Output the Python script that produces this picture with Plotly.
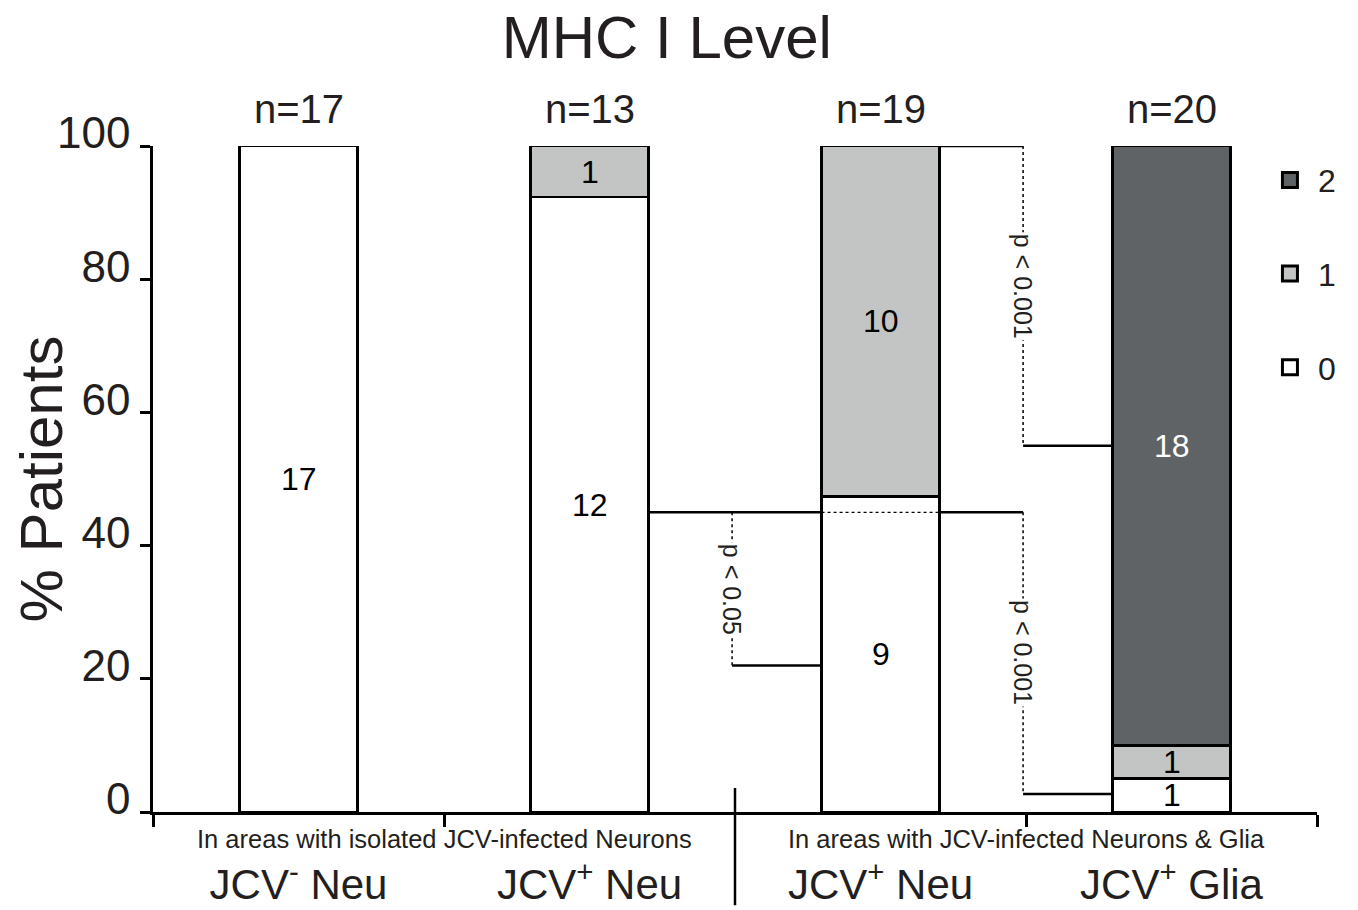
import plotly.graph_objects as go

# ---------------- data ----------------
categories = ["JCV<sup>-</sup> Neu", "JCV<sup>+</sup> Neu", "JCV<sup>+</sup> Neu", "JCV<sup>+</sup> Glia"]
group_labels = ["In areas with isolated JCV-infected Neurons", "In areas with JCV-infected Neurons & Glia"]
levels = ["0", "1", "2"]
count_level0 = [17, 12, 9, 1]
count_level1 = [0, 1, 10, 1]
count_level2 = [0, 0, 0, 18]
p_labels = ["p < 0.05", "p < 0.001", "p < 0.001"]
y_ticks = [0, 20, 40, 60, 80, 100]

counts = [count_level0, count_level1, count_level2]
totals = [sum(c[i] for c in counts) for i in range(len(categories))]
pct = [[100.0 * c[i] / totals[i] for i in range(len(categories))] for c in counts]

colors = ["#ffffff", "#c3c5c4", "#606366"]
txt = "#231f20"
FONT = "Liberation Sans, Arial, sans-serif"
BW = 0.405
xs = list(range(len(categories)))
W, H = 1350, 902  # page body adds an 8px offset

fig = go.Figure()
for k, lev in enumerate(levels):
    fig.add_trace(go.Bar(
        x=xs, y=pct[k], name=lev, width=BW,
        marker=dict(color=colors[k], line=dict(color="black", width=2.5)),
        showlegend=False, hoverinfo="skip",
    ))
# legend entries (square swatches)
for k, lev in enumerate(levels):
    fig.add_trace(go.Scatter(
        x=[None], y=[None], mode="markers", name=lev,
        marker=dict(symbol="square", size=15, color=colors[k], line=dict(color="black", width=3)),
        legendgroup=lev, legendrank=100 - k, showlegend=True,
    ))

# in-bar count labels
ann = []
for i in xs:
    base = 0.0
    for k in range(len(levels)):
        v = pct[k][i]
        if counts[k][i] > 0:
            ann.append(dict(x=i, y=base + v / 2, xref="x", yref="y", text=str(counts[k][i]),
                            showarrow=False, font=dict(size=32, color="white" if k == 2 else "black", family=FONT)))
        base += v
    # n= labels
    ann.append(dict(x=i, y=100, xref="x", yref="y", text=f"n={totals[i]}", showarrow=False,
                    yanchor="bottom", yshift=13, font=dict(size=40, color=txt, family=FONT)))

# group labels
for g, lab in enumerate(group_labels):
    ann.append(dict(x=2 * g + 0.5, y=0, xref="x", yref="paper", text=lab, showarrow=False,
                    yanchor="middle", yshift=-27, font=dict(size=25.5, color=txt, family=FONT)))

shapes = []
def hline(x0, x1, y, dash="solid", w=2.5):
    shapes.append(dict(type="line", x0=x0, x1=x1, y0=y, y1=y, xref="x", yref="y",
                       line=dict(color="black", width=w, dash=dash)))
def vline(x, y0, y1):
    shapes.append(dict(type="line", x0=x, x1=x, y0=y0, y1=y1, xref="x", yref="y",
                       line=dict(color="black", width=1.5, dash="dot")))

# bracket p<0.05 : JCV+ Neu (isolated) vs JCV+ Neu
hline(1 + BW / 2, 2 - BW / 2, 45)
hline(1.49, 2 - BW / 2, 22)
vline(1.49, 45, 22)
# dotted inside bar 3
hline(2 - BW / 2, 2 + BW / 2, 45, dash="dot", w=1.2)
# upper p<0.001
hline(2 + BW / 2, 2.49, 100)
vline(2.49, 100, 55)
hline(2.49, 3 - BW / 2, 55)
# lower p<0.001
hline(2 + BW / 2, 2.49, 45)
vline(2.49, 45, 2.7)
hline(2.49, 3 - BW / 2, 2.7)

for (x, y, t) in [(1.49, 33.5, p_labels[0]), (2.49, 79, p_labels[1]), (2.49, 24, p_labels[2])]:
    ann.append(dict(x=x, y=y, xref="x", yref="y", text=t, showarrow=False, textangle=90,
                    bgcolor="white", font=dict(size=25, color=txt, family=FONT)))

# divider between groups
shapes.append(dict(type="line", x0=1.5, x1=1.5, y0=-0.14, y1=0.036, xref="x", yref="paper",
                   line=dict(color="black", width=2.5)))

fig.update_layout(
    width=W, height=H,
    margin=dict(l=145, r=41, t=138, b=98),
    paper_bgcolor="white", plot_bgcolor="white",
    barmode="stack",
    font=dict(family=FONT, color=txt),
    title=dict(text="MHC I Level", x=0.488, xanchor="center", y=1 - 29 / H, yanchor="middle",
               yref="container", font=dict(size=60, color=txt, family=FONT)),
    xaxis=dict(range=[-0.5, 3.5], tickvals=xs, ticktext=categories, ticks="", automargin=False,
               showline=True, linecolor="black", linewidth=2.5, showgrid=False, zeroline=False,
               tickfont=dict(size=42, color=txt, family=FONT), ticklabelstandoff=34,
               minor=dict(tickvals=[-0.5, 0.5, 2.5, 3.5], ticks="outside", ticklen=12,
                          tickwidth=2.5, tickcolor="black")),
    yaxis=dict(range=[0, 100], tickvals=y_ticks, ticks="outside", ticklen=10, tickwidth=2.5,
               tickcolor="black", showline=True, linecolor="black", linewidth=2.5, automargin=False,
               showgrid=False, zeroline=False, tickfont=dict(size=44, color=txt, family=FONT),
               ticklabelstandoff=1, ticklabelshift=-13,
               title=dict(text="% Patients", font=dict(size=60, color=txt, family=FONT), standoff=4)),
    legend=dict(x=0.9527, xanchor="left", y=0.99, yanchor="top", traceorder="grouped",
                tracegroupgap=49, itemwidth=46, font=dict(size=32, color=txt, family=FONT),
                bgcolor="rgba(0,0,0,0)"),
    annotations=ann, shapes=shapes,
)

fig.write_html("out.html")
